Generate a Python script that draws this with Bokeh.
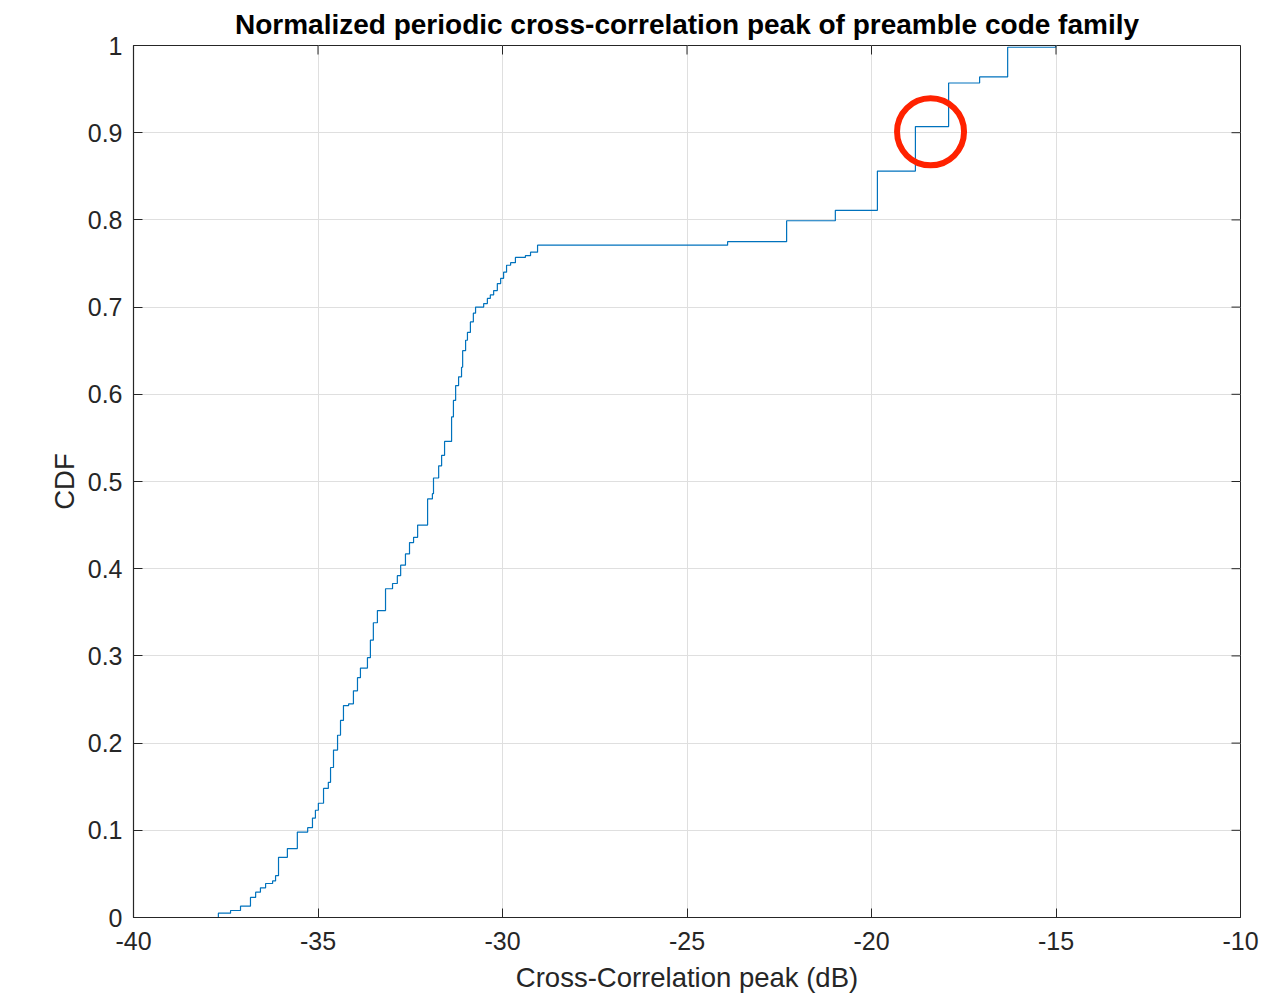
from bokeh.plotting import figure
from bokeh.models import FixedTicker, CustomJSTickFormatter, Range1d, Title
from bokeh.embed import file_html
from bokeh.resources import INLINE

# Step positions (dB) and CDF level reached at each step
peak_db = [-37.72, -37.70, -37.37, -37.10, -36.83, -36.69, -36.56, -36.42, -36.23, -36.15,
           -36.07, -35.83, -35.56, -35.28, -35.15, -35.07, -34.99, -34.85, -34.72, -34.66,
           -34.58, -34.47, -34.39, -34.31, -34.17, -34.04, -33.93, -33.85, -33.66, -33.58,
           -33.50, -33.39, -33.17, -32.98, -32.85, -32.76, -32.63, -32.52, -32.41, -32.30,
           -32.03, -31.90, -31.87, -31.73, -31.65, -31.57, -31.38, -31.33, -31.27, -31.19,
           -31.11, -31.08, -31.00, -30.95, -30.87, -30.79, -30.73, -30.51, -30.41, -30.33,
           -30.24, -30.14, -30.05, -29.97, -29.89, -29.78, -29.65, -29.38, -29.24, -29.05,
           -23.90, -22.30, -20.98, -19.84, -18.81, -17.91, -17.07, -16.31, -15.01]
cdf = [0.000, 0.005, 0.008, 0.013, 0.023, 0.029, 0.034, 0.039, 0.042, 0.048,
       0.069, 0.079, 0.098, 0.103, 0.114, 0.123, 0.131, 0.148, 0.155, 0.172,
       0.192, 0.209, 0.226, 0.243, 0.245, 0.260, 0.275, 0.286, 0.298, 0.318,
       0.338, 0.352, 0.377, 0.383, 0.392, 0.404, 0.417, 0.430, 0.436, 0.450,
       0.480, 0.486, 0.504, 0.518, 0.530, 0.546, 0.574, 0.593, 0.610, 0.620,
       0.631, 0.650, 0.662, 0.671, 0.683, 0.693, 0.700, 0.704, 0.710, 0.714,
       0.719, 0.727, 0.733, 0.740, 0.748, 0.751, 0.757, 0.759, 0.763, 0.771,
       0.775, 0.799, 0.811, 0.856, 0.907, 0.957, 0.964, 0.998, 1.000]

x_ticks = [-40, -35, -30, -25, -20, -15, -10]
y_ticks = [0, 0.1, 0.2, 0.3, 0.4, 0.5, 0.6, 0.7, 0.8, 0.9, 1]

highlight_x = [-18.40]
highlight_y = [0.901]

title_text = "Normalized periodic cross-correlation peak of preamble code family"
x_label = "Cross-Correlation peak (dB)"
y_label = "CDF"

FONT = "Liberation Sans"
AX = "#262626"
TICK_PX = "25px"
LABEL_PX = "27.5px"

X0, X1, Y0, Y1 = -40, -10, 0, 1
p = figure(width=1266, height=997, output_backend="svg", toolbar_location=None,
           x_range=Range1d(X0, X1), y_range=Range1d(Y0, Y1),
           min_border_left=133, min_border_right=26, min_border_top=45, min_border_bottom=80)
p.title = None
p.add_layout(Title(text=title_text, text_font=FONT, text_font_size="28px", text_font_style="bold",
                   text_color="#000000", align="center", standoff=12, offset=0), "above")

p.step(peak_db, cdf, mode="after", line_color="#0072BD", line_width=1.2)
p.scatter(highlight_x, highlight_y, marker="circle", size=67, fill_color=None,
          line_color="#FF2200", line_width=6)

# tick marks on top and right edges (MATLAB box style), 9 px long
tick_dx = (X1 - X0) * 9 / 1107
tick_dy = (Y1 - Y0) * 9 / 871
p.segment(x0=x_ticks, y0=[Y1] * len(x_ticks), x1=x_ticks, y1=[Y1 - tick_dy] * len(x_ticks),
          line_color=AX, line_width=1)
p.segment(x0=[X1] * len(y_ticks), y0=y_ticks, x1=[X1 - tick_dx] * len(y_ticks), y1=y_ticks,
          line_color=AX, line_width=1)

for ax in (p.xaxis[0], p.yaxis[0]):
    ax.axis_line_color = AX
    ax.axis_line_width = 1.2
    ax.major_tick_line_color = AX
    ax.major_tick_in = 9
    ax.major_tick_out = 0
    ax.minor_tick_line_color = None
    ax.major_label_text_font = FONT
    ax.major_label_text_font_size = TICK_PX
    ax.major_label_text_color = AX
    ax.axis_label_text_font = FONT
    ax.axis_label_text_font_size = LABEL_PX
    ax.axis_label_text_font_style = "normal"
    ax.axis_label_text_color = AX

p.xaxis[0].ticker = FixedTicker(ticks=x_ticks)
p.yaxis[0].ticker = FixedTicker(ticks=y_ticks)
p.xaxis[0].formatter = CustomJSTickFormatter(code="return tick.toString();")
p.yaxis[0].formatter = CustomJSTickFormatter(code="return tick.toFixed(1).replace(/\\.0$/, '');")
p.xaxis[0].axis_label = x_label
p.yaxis[0].axis_label = y_label
p.xaxis[0].major_label_standoff = 14
p.yaxis[0].major_label_standoff = 11
p.xaxis[0].axis_label_standoff = 9
p.yaxis[0].axis_label_standoff = 5

p.xgrid.ticker = FixedTicker(ticks=x_ticks)
p.ygrid.ticker = FixedTicker(ticks=y_ticks)
p.grid.grid_line_color = "#DFDFDF"
p.grid.grid_line_width = 1
p.outline_line_color = AX
p.background_fill_color = "white"
p.border_fill_color = "white"

open("out.html", "w").write(file_html(p, INLINE))
